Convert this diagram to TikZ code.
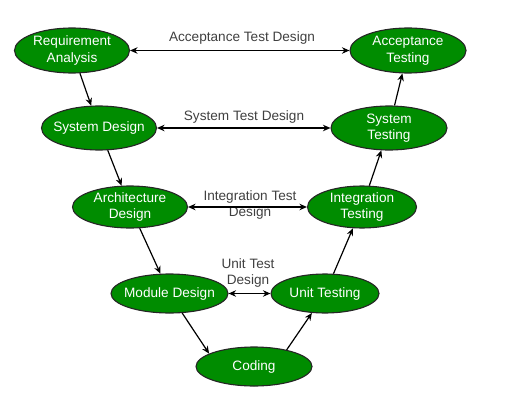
\documentclass[tikz,border=0pt]{standalone}
\usepackage{fontspec}
\setmainfont{Liberation Sans}
\usetikzlibrary{arrows.meta,shapes.geometric}
\definecolor{phasegreen}{RGB}{0,140,0}
\definecolor{labelgray}{RGB}{64,64,64}

\begin{document}
\begin{tikzpicture}[x=1pt,y=-1pt,>={Stealth[length=7.5pt,width=6.5pt]},
  phase/.style={ellipse,draw=black!85,line width=1.1pt,fill=phasegreen,text=white,
    font=\fontsize{13.6pt}{16.6pt}\selectfont,align=center,
    inner xsep=-8pt,inner ysep=-4pt,minimum width=115pt,minimum height=42pt},
  testlabel/.style={text=labelgray,font=\fontsize{13.6pt}{16pt}\selectfont,
    align=center,inner sep=0pt},
  link/.style={->,line width=1.2pt}]
  \useasboundingbox (0,0) rectangle (510,417);

  \node[phase,minimum height=45pt] (req) at (72,50.5) {Requirement\\Analysis};
  \node[phase,minimum height=45pt,minimum width=116pt] (acc) at (408,50.5) {Acceptance\\Testing};
  \node[phase,minimum height=44pt] (sysd) at (99,128) {System Design};
  \node[phase,minimum height=44pt,minimum width=116pt] (syst) at (389,128) {System\\Testing};
  \node[phase] (arch) at (130,207) {Architecture\\Design};
  \node[phase,minimum width=109pt] (integ) at (362,207) {Integration\\Testing};
  \node[phase,minimum height=39pt,minimum width=117pt] (module) at (169.5,293.5) {Module Design};
  \node[phase,minimum height=39pt,minimum width=108pt] (unit) at (325,293.5) {Unit Testing};
  \node[phase,minimum height=39pt,minimum width=116pt] (coding) at (254,366.5) {Coding};

  \node[testlabel] (acclbl) at (242,38) {Acceptance Test Design};
  \node[testlabel] (syslbl) at (244,117) {System Test Design};
  \node[testlabel] (intlbl) at (250,205) {Integration Test\\Design};
  \node[testlabel] (unitlbl) at (248,272.5) {Unit Test\\Design};

  \draw[link,<->] (req) -- (acc);
  \draw[link,<->] (sysd) -- (syst);
  \draw[link,<->] (arch) -- (integ);
  \draw[link,<->] (module) -- (unit);

  \draw[link] (req) -- (sysd);
  \draw[link] (sysd) -- (arch);
  \draw[link] (arch) -- (module);
  \draw[link] (module.303) -- (coding.164);
  \draw[link] (coding.27) -- (unit.236);
  \draw[link] (unit) -- (integ);
  \draw[link] (integ) -- (syst);
  \draw[link] (syst) -- (acc);
\end{tikzpicture}
\end{document}
